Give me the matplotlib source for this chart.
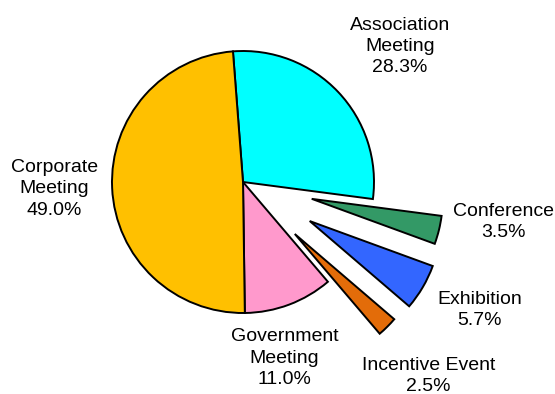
import matplotlib
matplotlib.use("Agg")
import matplotlib.pyplot as plt

categories = ["Association\nMeeting", "Conference", "Exhibition",
              "Incentive Event", "Government\nMeeting", "Corporate\nMeeting"]
shares = [28.3, 3.5, 5.7, 2.5, 11.0, 49.0]

colors = ["#00FFFF", "#339966", "#3366FF", "#E36C09", "#FF99CC", "#FFC000"]
explode = [0, 0.54, 0.59, 0.56, 0, 0]
# small shifts so the labels sit clear of the wedges
nudges = [(0.11, 0.0), (0.01, 0.18), (0.0, 0.08), (-0.04, -0.02),
          (-0.21, 0.06), (0.06, 0.015)]

plt.rcParams["font.family"] = ["Liberation Sans", "DejaVu Sans"]

fig = plt.figure(figsize=(5.55, 3.94), dpi=100)
ax = fig.add_axes([0, 0, 1, 1])

labels = ["%s\n%.1f%%" % (c, v) for c, v in zip(categories, shares)]
wedges, texts = ax.pie(shares, labels=labels, colors=colors, explode=explode,
                       startangle=94.4, counterclock=False, labeldistance=1.5,
                       wedgeprops=dict(edgecolor="black", linewidth=1.4),
                       textprops=dict(fontsize=14))

for t, (dx, dy) in zip(texts, nudges):
    x, y = t.get_position()
    t.set_position((x + dx, y + dy))
    t.set_ha("center")
    t.set_va("center")
    t.set_multialignment("center")
    t.set_linespacing(1.32)

ax.set_xlim(-243 / 131, 312 / 131)
ax.set_ylim(-212 / 131, 182 / 131)
ax.axis("off")

fig.savefig("out.png", dpi=100)
